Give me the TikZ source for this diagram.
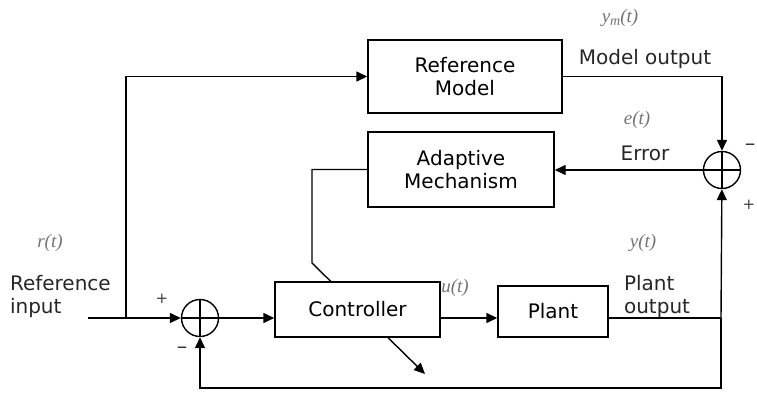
\documentclass[tikz,border=0pt]{standalone}
\usepackage{fontspec}
\setmainfont{DejaVu Sans}
\newfontfamily\sigfont{Liberation Serif}
\usetikzlibrary{arrows.meta,positioning}
\tikzset{
  block/.style={draw, fill=white, inner sep=0pt, align=center, font=\fontsize{20}{23}\selectfont},
  sumnode/.style={draw, circle, inner sep=0pt, minimum size=37pt,
    path picture={\draw (path picture bounding box.north) -- (path picture bounding box.south)
      (path picture bounding box.west) -- (path picture bounding box.east);}},
  lbl/.style={font=\fontsize{20}{23}\selectfont, align=left, text=black!85},
  sig/.style={font=\sigfont\itshape\fontsize{19}{22}\selectfont, text=black!55},
  sgn/.style={font=\fontsize{15}{18}\selectfont, text=black!75, inner sep=1pt},
  minus/.style={font=\fontsize{21}{22}\selectfont, text=black!80, inner sep=1pt},
}
\begin{document}
\begin{tikzpicture}[x=1pt, y=-1pt, line width=1.4pt, >={Triangle[length=11pt,width=10pt]}]
	\useasboundingbox (0,0) rectangle (757,393);
	\node[block, minimum width=194pt, minimum height=73pt] (refmodel) at (465,76.5) {Reference\\Model};
	\node[block, minimum width=186pt, minimum height=75pt] (adapt) at (461,169.5) {Adaptive\\Mechanism};
	\node[sumnode] (s1) at (200,318) {};
	\node[sumnode] (s2) at (722,170) {};
	\coordinate (rin) at (88,318);
	\coordinate (split) at (126,318);
	\coordinate (knee) at (312,263);
	\coordinate (tune) at (425,374);
	\coordinate (ypt) at (721,318);
	\coordinate (fb) at (721,388);

	% tuning line runs behind the controller
	\draw[->] (adapt.west) -| (knee) -- (tune);
	\node[block, minimum width=165pt, minimum height=55pt] (ctrl) at (357.5,309.5) {Controller};
	\node[block, minimum width=110pt, minimum height=51pt] (plant) at (553,311.5) {Plant};

	\draw (rin) -- (split);
	\draw[->] (split) -- (s1);
	\draw[->] (split) |- (refmodel.west);
	\draw[->] (s1) -- (ctrl.west |- s1);
	\draw[->] (ctrl.east |- s1) -- (plant.west |- s1);
	\draw (plant.east |- s1) -- (ypt);
	\draw[->] (ypt) -- (s2);
	\draw[->] (ypt) -- (fb) -| (s1);
	\draw[->] (refmodel.east) -| (s2);
	\draw[->] (s2) -- (adapt.east |- s2);

	\node[lbl, anchor=west] (rinlbl) at (6,296) {Reference\\input};
	\node[sig] (rsig) at (50,243) {r(t)};
	\node[sgn] (plus1) at (162,299) {+};
	\node[minus] (minus1) at (182,350) {–};
	\node[sig] (usig) at (455,288) {u(t)};
	\node[sig] (ysig) at (643,243) {y(t)};
	\node[lbl, anchor=west] (ylbl) at (620,296) {Plant\\output};
	\node[lbl] (ymlbl) at (645,59) {Model output};
	\node[sig] (ymsig) at (620,18) {y\raisebox{-0.3ex}{\fontsize{14}{14}\selectfont m}(t)};
	\node[sig] (esig) at (637,120) {e(t)};
	\node[lbl] (elbl) at (645,153) {Error};
	\node[minus, anchor=east] (minus2) at (757,147) {–};
	\node[sgn, anchor=east] (plus2) at (757,205) {+};
\end{tikzpicture}
\end{document}
